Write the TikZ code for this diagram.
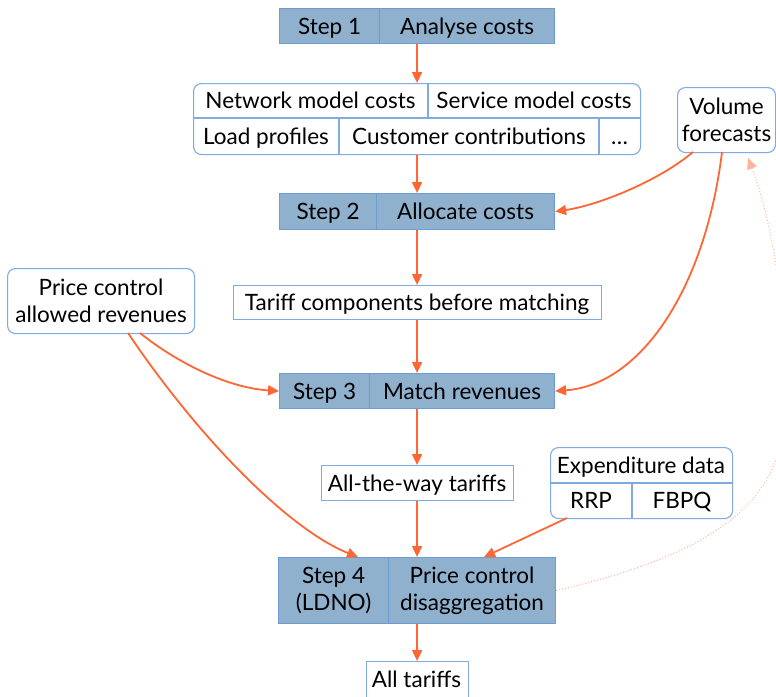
\documentclass[tikz,border=0pt]{standalone}
\usepackage{fontspec}
\setmainfont{Lato}
\usetikzlibrary{arrows.meta}
\definecolor{stepfill}{HTML}{8FB1CE}
\definecolor{stepline}{HTML}{6D9CD2}
\definecolor{boxline}{HTML}{7FAAE2}
\definecolor{arrcol}{HTML}{FF6633}
\definecolor{dotcol}{HTML}{FFB39E}
\tikzset{
  frame/.style={draw=boxline, line width=1.1pt, fill=white, inner sep=0pt, anchor=north west},
  rframe/.style={frame, rounded corners=8pt},
  stepcell/.style={draw=stepline, line width=1.1pt, fill=stepfill, inner sep=0pt, anchor=north west, align=center, font=\fontsize{22.5}{27}\selectfont},
  stepbox/.style={draw=stepline, line width=1.1pt, inner sep=0pt, anchor=north west},
  txt/.style={inner sep=0pt, align=center, font=\fontsize{22.5}{27}\selectfont},
  oneline/.style={text height=16pt, text depth=0pt},
  divider/.style={draw=boxline, line width=1.1pt},
  arr/.style={draw=arrcol, line width=1.8pt, -{Triangle[length=11pt,width=10pt]}},
  dotarr/.style={draw=dotcol, line width=1pt, dotted, -{Triangle[length=11pt,width=10pt]}},
}
\begin{document}
\begin{tikzpicture}[x=1pt,y=-1pt]
\useasboundingbox (0,0) rectangle (776,696);
% Step 1
\node[stepcell, oneline, minimum width=100pt, minimum height=35pt] (s1a) at (279,8) {Step 1};
\node[stepcell, oneline, minimum width=175pt, minimum height=35pt] (s1b) at (379,8) {Analyse costs};
\node[stepbox, minimum width=275pt, minimum height=35pt] (step1) at (279,8) {};
% Network box
\node[rframe, minimum width=447pt, minimum height=71pt] (net) at (193,83) {};
\draw[divider] (193,118) -- (640,118);
\draw[divider] (428,83) -- (428,118);
\draw[divider] (339,118) -- (339,154);
\draw[divider] (599,118) -- (599,154);
\node[txt, oneline] (netA) at (310.5,100.5) {Network model costs};
\node[txt, oneline] (netB) at (534,100.5) {Service model costs};
\node[txt, oneline] (netC) at (266,136) {Load profiles};
\node[txt, oneline] (netD) at (469,136) {Customer contributions};
\node[txt, oneline] (netE) at (619.5,136) {\dots};
% Volume forecasts
\node[rframe, minimum width=98pt, minimum height=65pt] (vol) at (677,87) {};
\node[txt] (volt) at (vol.center) {Volume\\forecasts};
% Step 2
\node[stepcell, oneline, minimum width=97pt, minimum height=36pt] (s2a) at (279,193) {Step 2};
\node[stepcell, oneline, minimum width=178pt, minimum height=36pt] (s2b) at (376,193) {Allocate costs};
\node[stepbox, minimum width=275pt, minimum height=36pt] (step2) at (279,193) {};
% Price control allowed revenues
\node[rframe, minimum width=187pt, minimum height=65pt] (pc) at (7,268) {};
\node[txt] (pct) at (pc.center) {Price control\\allowed revenues};
% Tariff components
\node[frame, minimum width=368pt, minimum height=34pt] (tc) at (232.5,285) {};
\node[txt, oneline] (tct) at (tc.center) {Tariff components before matching};
% Step 3
\node[stepcell, oneline, minimum width=90pt, minimum height=35pt] (s3a) at (279,373) {Step 3};
\node[stepcell, oneline, minimum width=185pt, minimum height=35pt] (s3b) at (369,373) {Match revenues};
\node[stepbox, minimum width=275pt, minimum height=35pt] (step3) at (279,373) {};
% All-the-way tariffs
\node[frame, minimum width=192pt, minimum height=35pt] (atw) at (320.5,465) {};
\node[txt, oneline] (atwt) at (atw.center) {All-the-way tariffs};
% Expenditure data
\node[rframe, minimum width=182pt, minimum height=71pt] (exp) at (550,447) {};
\draw[divider] (550,483) -- (732,483);
\draw[divider] (632,483) -- (632,518);
\node[txt, oneline] (expA) at (641,465) {Expenditure data};
\node[txt, oneline] (expB) at (591,500.5) {RRP};
\node[txt, oneline] (expC) at (682,500.5) {FBPQ};
% Step 4
\node[stepcell, minimum width=110pt, minimum height=66pt] (s4a) at (278,557) {Step 4\\(LDNO)};
\node[stepcell, minimum width=167pt, minimum height=66pt] (s4b) at (388,557) {Price control\\disaggregation};
\node[stepbox, minimum width=277pt, minimum height=66pt] (step4) at (278,557) {};
% All tariffs
\node[frame, minimum width=102pt, minimum height=40pt] (allt) at (365.5,661) {};
\node[txt, oneline] (alltt) at (416.5,679) {All tariffs};
% Spine arrows
\draw[arr] (step1.south) -- (net.north);
\draw[arr] (net.south) -- (step2.north);
\draw[arr] (step2.south) -- (tc.north);
\draw[arr] (tc.south) -- (step3.north);
\draw[arr] (step3.south) -- (atw.north);
\draw[arr] (atw.south) -- (step4.north);
\draw[arr] (step4.south) -- (allt.north);
% Side arrows
\coordinate (volA) at (693,152);
\coordinate (volB) at (722,152);
\draw[arr] (volA) .. controls (660,180) and (600,205) .. (step2.east);
\draw[arr] (volB) .. controls (705,290) and (640,385) .. (step3.east);
\coordinate (pcA) at (140,333);
\coordinate (pcB) at (128,333);
\coordinate (s4in) at (358,557);
\coordinate (s4ex) at (484,557);
\draw[arr] (pcA) .. controls (180,365) and (230,388) .. (step3.west);
\draw[arr] (pcB) .. controls (200,440) and (290,530) .. (s4in);
\coordinate (expS) at (567,518);
\draw[arr] (expS) -- (s4ex);
\coordinate (volC) at (748,158);
\coordinate (dotmid) at (781,440);
\draw[dotarr] (step4.east) .. controls (680,562) and (767,520) .. (dotmid) .. controls (793,330) and (772,220) .. (volC);
\end{tikzpicture}
\end{document}
